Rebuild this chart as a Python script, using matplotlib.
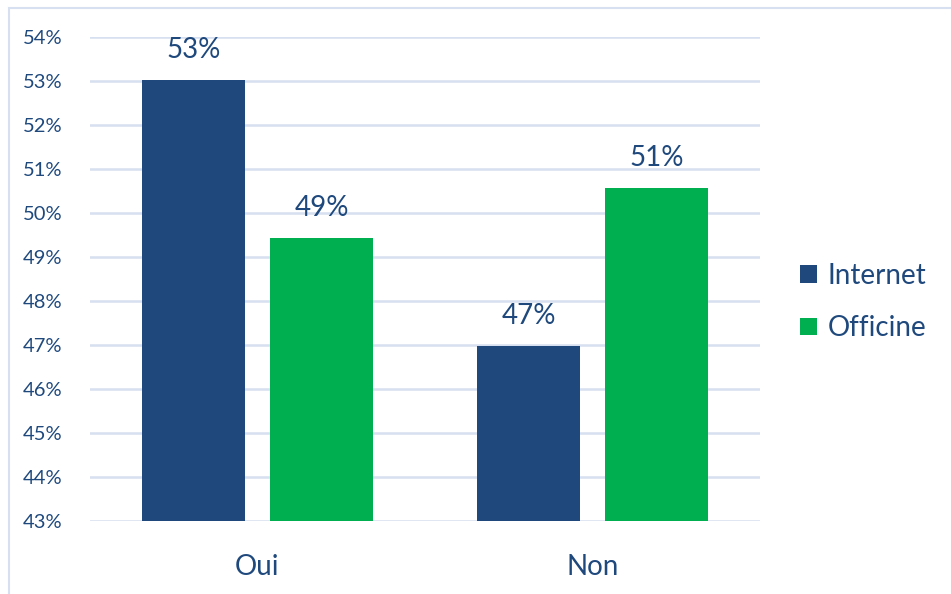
import matplotlib
matplotlib.use("Agg")
import matplotlib.pyplot as plt
from matplotlib.patches import Rectangle, Patch
import numpy as np

categories = ["Oui", "Non"]
series_names = ["Internet", "Officine"]
internet = [53.02, 46.98]
officine = [49.43, 50.57]
yticks = list(range(43, 55))

colors = ["#1F497D", "#00B050"]
text_color = "#1F497D"
grid_color = "#D6E0F0"

plt.rcParams['font.family'] = ['Lato', 'DejaVu Sans']

fig = plt.figure(figsize=(9.51, 5.94), dpi=100)
ax = fig.add_axes([90/951, 1-521/594, 670/951, 484/594])

# outer border
fig.patches.append(Rectangle((8.5/951, -0.1), 1.2, 1 - 7.5/594 + 0.1, transform=fig.transFigure,
                             fill=False, edgecolor=grid_color, linewidth=1.5, zorder=0))

x = np.arange(len(categories))
w = 0.307
off = 0.191
for vals, col, sign in [(internet, colors[0], -1), (officine, colors[1], 1)]:
    ax.bar(x + sign*off, np.array(vals) - 43, width=w, bottom=43, color=col, zorder=3,
           edgecolor="none")
    for xi, v in zip(x, vals):
        ax.text(xi + sign*off, v + 0.38, f"{round(v):.0f}%", ha="center", va="bottom",
                fontsize=20, color=text_color, zorder=4)

ax.set_xlim(-0.5, 1.5)
ax.set_ylim(43, 54)
ax.set_yticks(yticks)
ax.set_yticklabels([f"{t}%" for t in yticks], fontsize=14.5, color=text_color)
ax.set_xticks(x)
ax.set_xticklabels(categories, fontsize=20, color=text_color)
ax.tick_params(axis="y", length=0, pad=20)
ax.tick_params(axis="x", length=0, pad=24)
ax.grid(axis="y", color=grid_color, linewidth=1.8, zorder=0)
ax.set_axisbelow(True)
for s in ax.spines.values():
    s.set_visible(False)

handles = [Patch(facecolor=c, edgecolor="none") for c in colors]
leg = fig.legend(handles, series_names, loc="center left", bbox_to_anchor=(800/951, 1-302/594),
                 frameon=False, fontsize=20, handlelength=0.6, handleheight=0.6,
                 handletextpad=0.4, labelspacing=0.95, borderaxespad=0, borderpad=0)
for t in leg.get_texts():
    t.set_color(text_color)

fig.savefig("out.png", dpi=100)
